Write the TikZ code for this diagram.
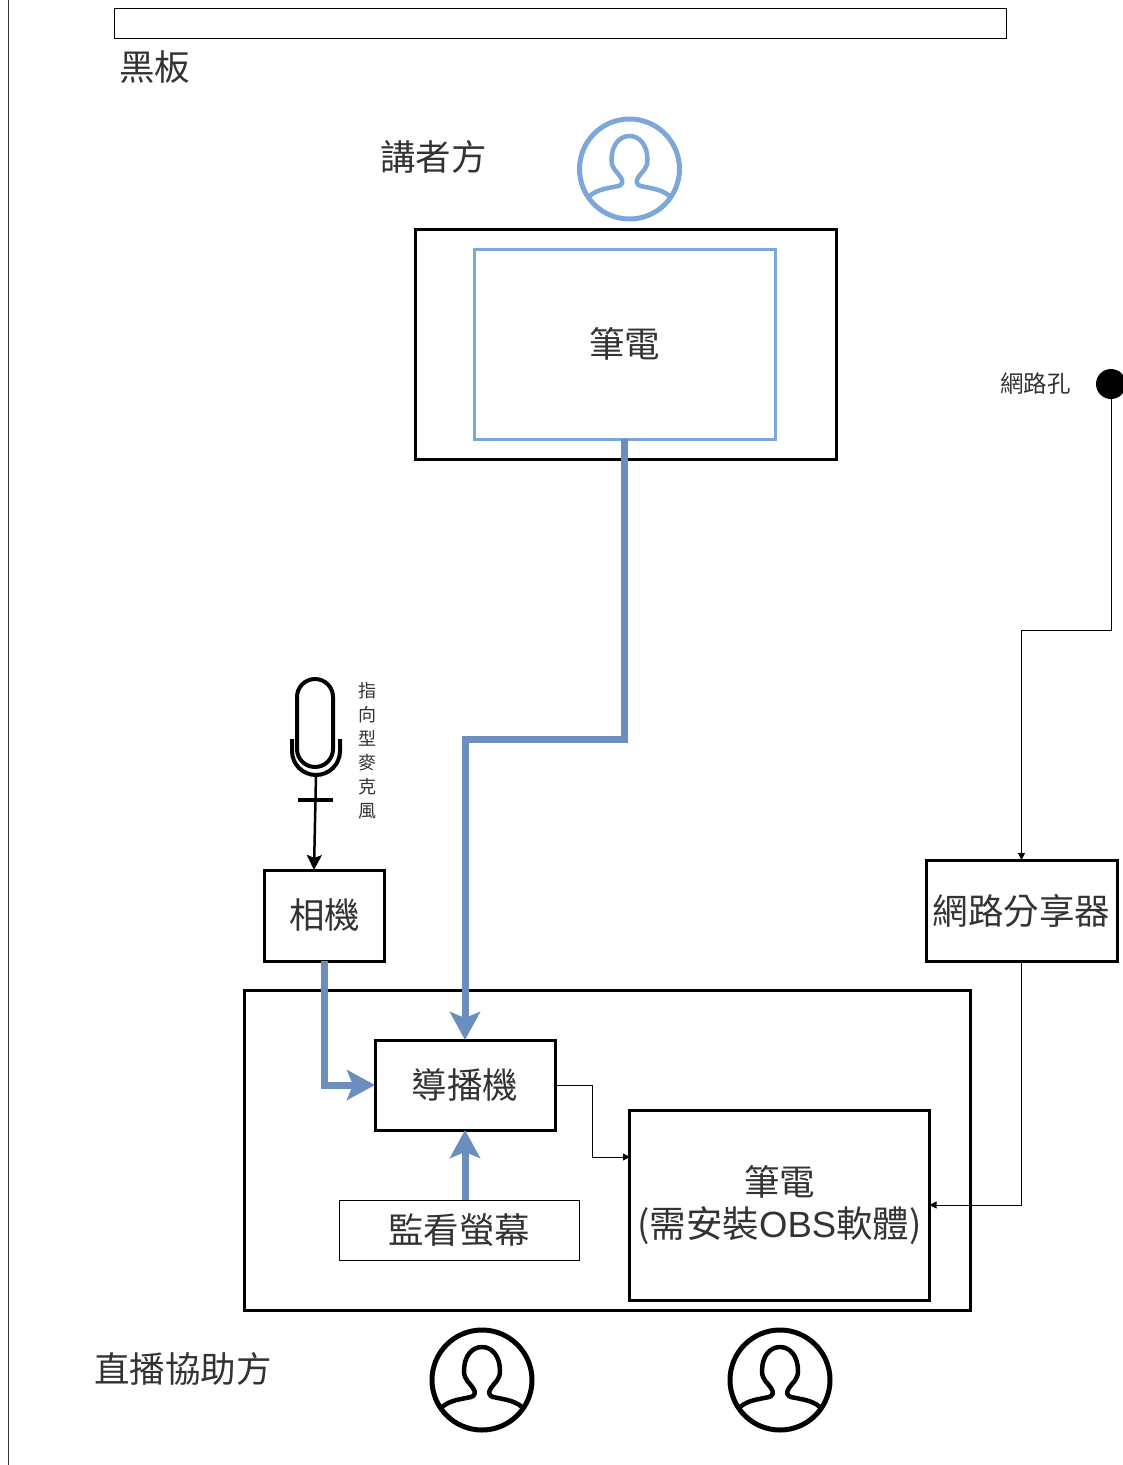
\documentclass[tikz,border=0pt]{standalone}
\usepackage{fontspec}
\usepackage{tikz}
\usetikzlibrary{positioning,arrows.meta}
\newfontfamily\cjk{Noto Sans CJK TC}
\newfontfamily\latin{Liberation Sans}
\definecolor{speakerblue}{HTML}{7DA6D9}
\definecolor{cableblue}{HTML}{6C8EBF}
\definecolor{labelgray}{HTML}{333333}
\tikzset{
person/.pic={
    \draw [line width=5pt,pic actions] (0,0) circle (50);
    \draw [line width=4.5pt,pic actions] (-40,27) .. controls (-32,20) and (-20,19) .. (-11,17)
        .. controls (-7,16) and (-6,12) .. (-9,8) .. controls (-12,3) and (-18,0) .. (-18,-9)
        .. controls (-18,-24) and (-10,-33) .. (0,-33) .. controls (10,-33) and (18,-24) .. (18,-9)
        .. controls (18,0) and (12,3) .. (9,8) .. controls (6,12) and (7,16) .. (11,17)
        .. controls (20,19) and (32,20) .. (40,27);
}}
\begin{document}
\begin{tikzpicture}[x=1pt,y=-1pt,
box/.style={draw,rectangle,line width=3pt,inner sep=0pt,outer sep=0pt,align=center,text=labelgray,font=\cjk\fontsize{35.5}{44}\selectfont},
thinbox/.style={box,line width=.8pt},
caption/.style={text=labelgray,inner sep=0pt,font=\cjk\fontsize{35.5}{44}\selectfont},
cable/.style={cableblue,line width=7pt,-{Stealth[width=30pt,length=28pt,inset=6pt]}},
wire/.style={black,line width=.8pt,-{Triangle[width=7pt,length=7pt]}}]
\useasboundingbox (0,0) rectangle (1123,1465);
\clip (0,0) rectangle (1123,1465);
\draw [line width=.8pt,labelgray] (8,0) -- (8,1465);

\node (board) [thinbox,minimum width=892pt,minimum height=30pt] at (560,23.5) {};
\node (boardlabel) [caption] at (154.5,67) {黑板};

% speaker side
\node (speakerlabel) [caption] at (433.5,157) {講者方};
\pic [speakerblue] at (629.5,169) {person};
\node (desk) [box,minimum width=421pt,minimum height=230pt] at (625.5,344) {};
\node (speakerpc) [box,draw=speakerblue,minimum width=301pt,minimum height=190pt] at (624.5,344) {筆電};

% network
\node (netdot) [circle,fill=black,inner sep=0pt,minimum size=30pt] at (1111,384) {};
\node (netlabel) [caption,left=25pt of netdot,font=\cjk\fontsize{23.5}{28}\selectfont] {網路孔};
\node (router) [box,minimum width=191pt,minimum height=101pt] at (1021.5,910.5) {網路分享器};
\coordinate (netbend) at (1111,630);

% microphone
\draw [line width=4pt] (297,697) arc (180:360:18) -- (333,749) arc (0:180:18) -- cycle;
\draw [line width=4pt] (292,739) -- (292,751) arc (180:0:24) -- (340,739);
\draw [line width=3.5pt] (298,800) -- (333,800);
\coordinate (micbase) at (316,775);
\node (miclabel) [caption,text width=20pt,align=center,font=\cjk\fontsize{18}{24}\selectfont] at (367,751) {指\\向\\型\\麥\\克\\風};

% streaming side
\node (camera) [box,minimum width=120pt,minimum height=91pt] at (324.5,915.5) {相機};
\node (crew) [box,minimum width=726pt,minimum height=320pt] at (607.5,1150) {};
\node (switcher) [box,minimum width=180pt,minimum height=90pt] at (465,1085) {導播機};
\node (monitor) [thinbox,minimum width=240pt,minimum height=60pt] at (459,1230) {監看螢幕};
\node (obspc) [box,minimum width=300pt,minimum height=190pt] at (779.5,1205) {\raisebox{-2pt}{筆電}\\\fontsize{36.5}{44}\selectfont(需安裝{\latin OBS}軟體)};
\node (crewlabel) [caption] at (183,1369) {直播協助方};
\pic at (482,1380) {person};
\pic at (780,1380) {person};
\coordinate (cablebend) at (624.5,739);
\coordinate (obsinput) at (630,1157);
\coordinate (switchbend) at (592,1085);

% connectors
\draw [cable] (speakerpc.south) -- (cablebend) -| (switcher.north);
\draw [cable] (camera.south) |- (switcher.west);
\draw [cable] (switcher.south |- monitor.north) -- (switcher.south);
\draw [black,line width=2.5pt,-{Stealth[width=15pt,length=15pt,inset=3pt]}] (micbase) -- (314,870);
\draw [wire] (netdot.south) -- (netbend) -| (router.north);
\draw [wire] (router.south) |- (obspc.east);
\draw [wire] (switcher.east) -- (switchbend) |- (obsinput);
\end{tikzpicture}
\end{document}
